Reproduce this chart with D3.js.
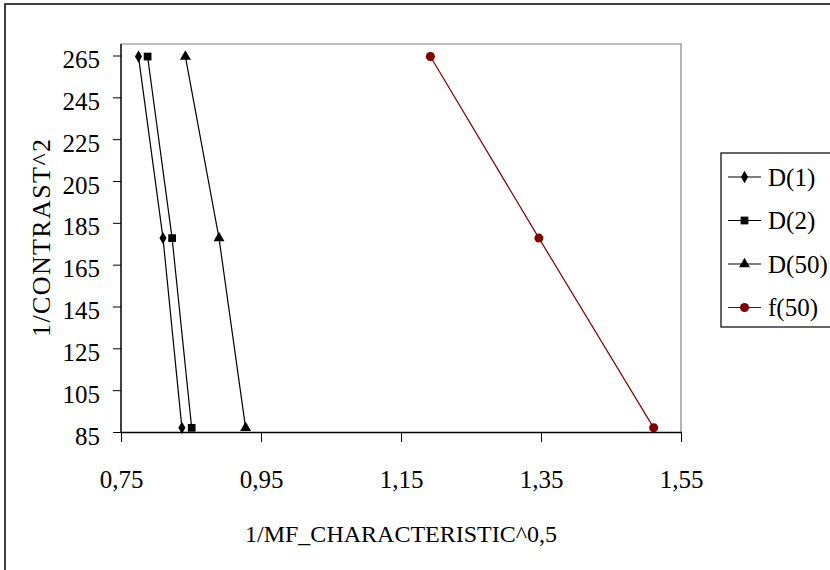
<!DOCTYPE html>
<html>
<head>
<meta charset="utf-8">
<script src="https://cdn.jsdelivr.net/npm/d3@7"></script>
<style>
  html, body { margin: 0; padding: 0; background: #fff; }
  svg { display: block; font-family: "Liberation Serif", "Times New Roman", serif; }
</style>
</head>
<body>
<div id="chart"></div>
<script>
// values
const yValues = [264.5, 177.7, 87];
const d1 = [0.775, 0.810, 0.837];
const d2 = [0.788, 0.823, 0.851];
const d50 = [0.842, 0.890, 0.928];
const f50 = [1.192, 1.347, 1.511];
const seriesNames = ['D(1)', 'D(2)', 'D(50)', 'f(50)'];
const xTicks = [0.75, 0.95, 1.15, 1.35, 1.55];
const yTicks = [85, 105, 125, 145, 165, 185, 205, 225, 245, 265];

const W = 830, H = 570;
const plot = { left: 121, right: 681, top: 44, bottom: 432 };
const FONT = 'Liberation Serif, Times New Roman, serif';

const series = [
  { name: seriesNames[0], xs: d1, color: '#000', symbol: d3.symbolDiamond, size: 44 },
  { name: seriesNames[1], xs: d2, color: '#000', symbol: d3.symbolSquare, size: 60 },
  { name: seriesNames[2], xs: d50, color: '#000', symbol: d3.symbolTriangle, size: 52 },
  { name: seriesNames[3], xs: f50, color: '#800000', symbol: d3.symbolCircle, size: 64 }
];

const svg = d3.select('#chart').append('svg')
  .attr('width', W).attr('height', H);

// outer chart frame (runs off the right/bottom of the picture)
svg.append('rect')
  .attr('x', 5).attr('y', 4)
  .attr('width', W + 10).attr('height', H + 10)
  .attr('fill', '#fff').attr('stroke', '#000').attr('stroke-width', 1.5);

const xScale = d3.scaleLinear().domain([0.75, 1.55]).range([plot.left, plot.right]);
const yScale = d3.scaleLinear().domain([85, 270.5]).range([plot.bottom, plot.top]);

// plot area: grey top and right edges
svg.append('path')
  .attr('d', `M${plot.left},${plot.top}H${plot.right}V${plot.bottom}`)
  .attr('fill', 'none').attr('stroke', '#808080').attr('stroke-width', 1.2);

// axes
const xAxis = svg.append('g')
  .attr('transform', `translate(0,${plot.bottom})`)
  .call(d3.axisBottom(xScale).tickValues(xTicks).tickSize(10).tickSizeOuter(0)
    .tickFormat(d => d3.format('.2f')(d).replace('.', ',')));
xAxis.select('.domain').attr('stroke', '#000').attr('stroke-width', 1.5);
xAxis.selectAll('line').attr('stroke', '#000');
xAxis.selectAll('text')
  .attr('font-size', '25px').attr('font-family', FONT)
  .attr('fill', '#000').attr('y', 56).attr('dy', 0);

const yAxis = svg.append('g')
  .attr('transform', `translate(${plot.left},0)`)
  .call(d3.axisLeft(yScale).tickValues(yTicks).tickSize(8).tickSizeOuter(0));
yAxis.select('.domain').attr('stroke', '#000').attr('stroke-width', 1.5)
  .attr('d', `M0,${plot.top}V${plot.bottom}`);
yAxis.selectAll('line').attr('stroke', '#000');
yAxis.selectAll('text')
  .attr('font-size', '25px').attr('font-family', FONT)
  .attr('fill', '#000').attr('x', -21).attr('dy', 12);

// axis titles
svg.append('text')
  .attr('x', (plot.left + plot.right) / 2).attr('y', 542)
  .attr('text-anchor', 'middle').attr('font-size', '24px')
  .text('1/MF_CHARACTERISTIC^0,5');

svg.append('text')
  .attr('transform', `translate(50,${(plot.top + plot.bottom) / 2}) rotate(-90)`)
  .attr('text-anchor', 'middle').attr('font-size', '26px')
  .attr('textLength', 198).attr('lengthAdjust', 'spacing')
  .text('1/CONTRAST^2');

// lines and markers
const line = d3.line().x(d => xScale(d[0])).y(d => yScale(d[1]));

series.forEach(s => {
  const pts = s.xs.map((x, i) => [x, yValues[i]]);
  svg.append('path')
    .datum(pts)
    .attr('d', line)
    .attr('fill', 'none').attr('stroke', s.color).attr('stroke-width', 1.2);
  svg.selectAll(null)
    .data(pts)
    .join('path')
    .attr('transform', d => `translate(${xScale(d[0])},${yScale(d[1])})`)
    .attr('d', d3.symbol().type(s.symbol).size(s.size))
    .attr('fill', s.color);
});

// legend
const legend = svg.append('g').attr('transform', 'translate(721,153)');
legend.append('rect')
  .attr('width', 140).attr('height', 174)
  .attr('fill', '#fff').attr('stroke', '#000').attr('stroke-width', 1.2);

series.forEach((s, i) => {
  const lg = legend.append('g').attr('transform', `translate(0,${24 + i * 43.5})`);
  lg.append('line')
    .attr('x1', 7).attr('x2', 40)
    .attr('stroke', s.color).attr('stroke-width', 1.2);
  lg.append('path')
    .attr('transform', 'translate(23.5,0)')
    .attr('d', d3.symbol().type(s.symbol).size(s.size))
    .attr('fill', s.color);
  lg.append('text')
    .attr('x', 47).attr('dy', '0.35em')
    .attr('font-size', '25px')
    .text(s.name);
});
</script>
</body>
</html>
